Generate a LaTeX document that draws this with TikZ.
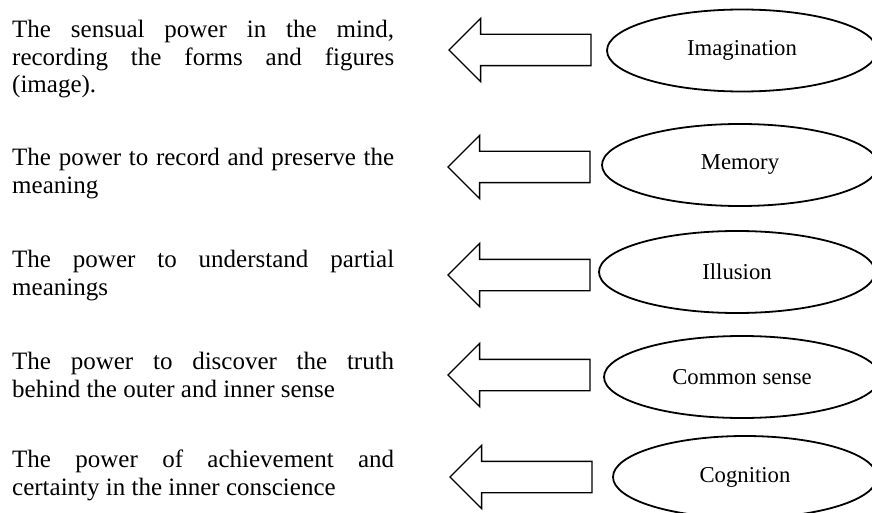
\documentclass[tikz,border=0pt]{standalone}
\usepackage{fontspec}
\setmainfont{Liberation Serif}
\usepackage{tikz}
\usetikzlibrary{shapes.geometric,shapes.arrows}
\hyphenpenalty=10000
\exhyphenpenalty=10000
\tolerance=10000

\begin{document}
\begin{tikzpicture}[x=1pt,y=-1pt,
  power/.style={anchor=north west,inner sep=0pt,text width=382pt,align=justify,
    font=\fontsize{25}{27.5}\selectfont},
  faculty/.style={ellipse,draw,line width=1.8pt,minimum width=276pt,minimum height=82pt,
    inner sep=0pt,font=\fontsize{22.7}{27}\selectfont},
  blockarrow/.style={single arrow,draw,line width=1.4pt,shape border rotate=180,
    single arrow tip angle=90,single arrow head extend=16pt,single arrow head indent=0pt,
    inner xsep=0pt,inner ysep=15pt,minimum height=142pt,anchor=tip}]
\useasboundingbox (0,0) rectangle (872,513);
\clip (0,0) rectangle (872,513);

% left column
\node[power] (imaginationtxt) at (12,20) {The sensual power in the mind, recording the forms and figures (image).};
\node[power] (memorytxt) at (12,148) {The power to record and preserve the meaning};
\node[power] (illusiontxt) at (12,250) {The power to understand partial meanings};
\node[power] (commontxt) at (12,352) {The power to discover the truth\linebreak behind the outer and inner sense};
\node[power] (cognitiontxt) at (12,450) {The power of achievement and certainty in the inner conscience};

% arrows
\node[blockarrow] (imaginationarr) at (448,50) {};
\node[blockarrow] (memoryarr) at (447,167) {};
\node[blockarrow] (illusionarr) at (447,275) {};
\node[blockarrow] (commonarr) at (447,375) {};
\node[blockarrow] (cognitionarr) at (449,477) {};

% faculties
\node[faculty,minimum width=270pt] (imagination) at (742,50.5) {Imagination};
\node[faculty] (memory) at (740,165) {Memory};
\node[faculty] (illusion) at (737,272) {Illusion};
\node[faculty] (common) at (742,377) {Common sense};
\node[faculty,minimum width=264pt] (cognition) at (745,477) {Cognition};
\end{tikzpicture}
\end{document}
